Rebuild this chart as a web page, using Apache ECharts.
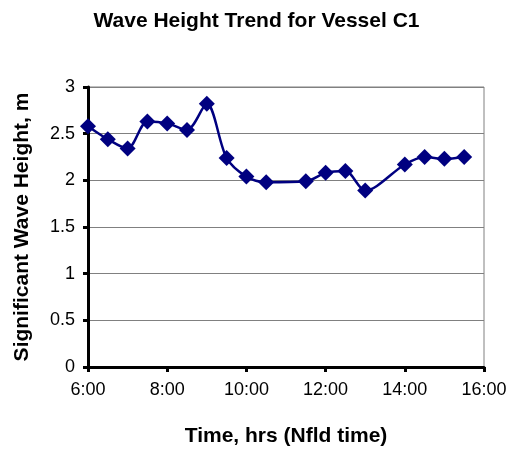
<!DOCTYPE html>
<html><head><meta charset="utf-8">
<script src="https://cdn.jsdelivr.net/npm/echarts@6/dist/echarts.min.js"></script>
<style>html,body{margin:0;padding:0;background:#fff}#c{width:513px;height:449px}</style>
</head><body><div id="c"></div>
<script>
const times = ["6:00","6:30","7:00","7:30","8:00","8:30","9:00","9:30","10:00","10:30","11:30","12:00","12:30","13:00","14:00","14:30","15:00","15:30"];
const waveHeight = [2.58,2.44,2.34,2.63,2.61,2.54,2.82,2.24,2.04,1.98,1.99,2.08,2.10,1.89,2.17,2.25,2.23,2.25];
const xTickLabels = ["6:00","8:00","10:00","12:00","14:00","16:00"];
const yTickLabels = ["0","0.5","1","1.5","2","2.5","3"];

function toHours(s){const p=s.split(':');return +p[0]+(+p[1])/60;}
const pts = times.map((t,i)=>[toHours(t), waveHeight[i]]);
const font = 'Liberation Sans, Arial, sans-serif';
const chart = echarts.init(document.getElementById('c'));
chart.setOption({
  animation:false,
  title:{text:'Wave Height Trend for Vessel C1',left:'center',top:6,
    textStyle:{fontFamily:font,fontSize:21,fontWeight:'bold',color:'#000'}},
  grid:{left:88,right:29,top:87,bottom:82,show:true,borderColor:'#808080',borderWidth:1,
    outerBoundsMode:'none',containLabel:false},
  xAxis:{type:'value',min:6,max:16,interval:2,
    name:'Time, hrs (Nfld time)',nameLocation:'middle',nameGap:59,
    nameTextStyle:{fontFamily:font,fontSize:21,fontWeight:'bold',color:'#000'},
    axisLine:{show:true,lineStyle:{color:'#000',width:3}},
    axisTick:{show:true,length:5,lineStyle:{color:'#000',width:3}},
    axisLabel:{fontFamily:font,fontSize:18,color:'#000',margin:14,
      formatter:v=>xTickLabels[Math.round((v-6)/2)]||''},
    splitLine:{show:false}},
  yAxis:{type:'value',min:0,max:3,interval:0.5,
    name:'Significant Wave Height, m',nameLocation:'middle',nameGap:55,
    nameTextStyle:{fontFamily:font,fontSize:21,fontWeight:'bold',color:'#000'},
    axisLine:{show:true,lineStyle:{color:'#000',width:3}},
    axisTick:{show:true,length:5,lineStyle:{color:'#000',width:3}},
    axisLabel:{fontFamily:font,fontSize:18,color:'#000',margin:13,
      formatter:v=>yTickLabels[Math.round(v*2)]},
    splitLine:{show:true,lineStyle:{color:'#808080',width:1}}},
  series:[{type:'line',data:pts,smooth:0.3,
    symbol:'diamond',symbolSize:16,
    lineStyle:{color:'#000080',width:2.5},
    itemStyle:{color:'#000080'}}]
});
</script></body></html>
